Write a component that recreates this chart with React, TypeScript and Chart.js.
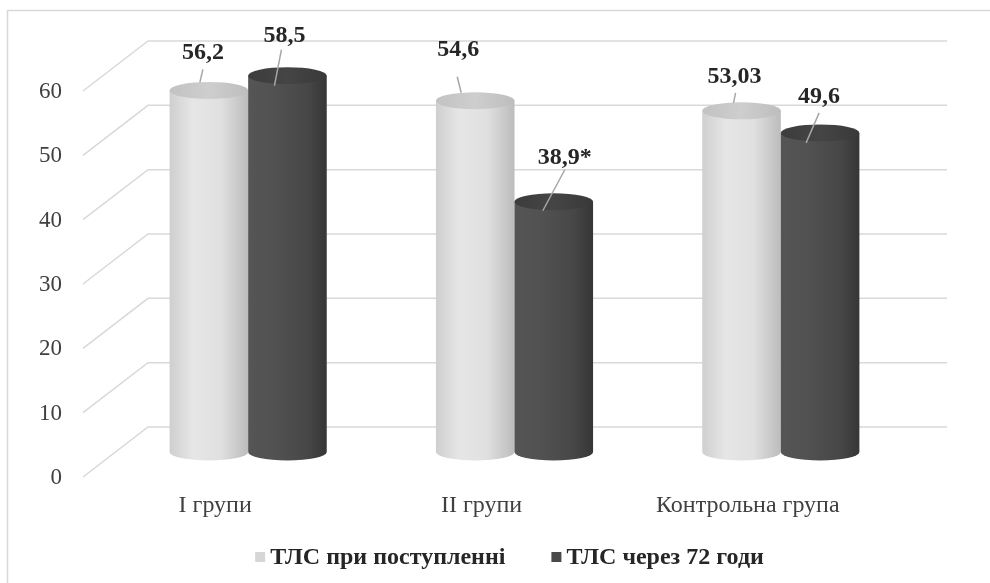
import React, { useEffect, useRef } from "react";
import { Chart, registerables } from "chart.js";

Chart.register(...registerables);

// ---- data ----
const categories = ["I групи", "II групи", "Контрольна група"];
const seriesNames = ["ТЛС при поступленні", "ТЛС через 72 годи"];
const admissionValues = [56.2, 54.6, 53.03];
const after72hValues = [58.5, 38.9, 49.6];
const admissionMarks = ["", "", ""];
const after72hMarks = ["", "*", ""];
const yMin = 0;
const yMax = 60;
const yStep = 10;

// ---- style ----
const FONT = '"Liberation Serif", "Times New Roman", serif';
const DX = 33; // depth offset (x)
const DY = 25; // depth offset (y)
const ELLIPSE_RY = 8.5;
const palettes = [
  {
    legend: "#d6d6d6",
    body: [
      [0, "#cfcfcf"],
      [0.3, "#e6e6e6"],
      [0.65, "#e0e0e0"],
      [1, "#bcbcbc"],
    ],
    top: [
      [0, "#c2c2c2"],
      [0.5, "#cecece"],
      [1, "#bdbdbd"],
    ],
  },
  {
    legend: "#4a4a4a",
    body: [
      [0, "#555555"],
      [0.35, "#515151"],
      [0.75, "#474747"],
      [1, "#363636"],
    ],
    top: [
      [0, "#3c3c3c"],
      [0.5, "#454545"],
      [1, "#393939"],
    ],
  },
];
// label / leader placement relative to the top centre of each bar
const labelLayout = [
  [
    { label: [-6, -38], from: [-6, -21], to: [-9, -8] },
    { label: [-17, -51], from: [-18, -24], to: [-14, -8] },
    { label: [-7, -34], from: [-6, -18], to: [-8, -8] },
  ],
  [
    { label: [-3, -40], from: [-6, -26], to: [-13, 10] },
    { label: [11, -44], from: [11, -32], to: [-11, 9] },
    { label: [-1, -36], from: [-1, -20], to: [-14, 10] },
  ],
];
const seriesMarks = [admissionMarks, after72hMarks];

function fmt(v: number) {
  return String(v).replace(".", ",");
}

function grad(ctx: CanvasRenderingContext2D, l: number, r: number, stops: any[]) {
  const g = ctx.createLinearGradient(l, 0, r, 0);
  for (const [o, c] of stops) g.addColorStop(o, c);
  return g;
}

function drawCylinder(
  ctx: CanvasRenderingContext2D,
  cx: number,
  top: number,
  base: number,
  w: number,
  pal: any
) {
  const rx = w / 2;
  const l = cx - rx;
  const r = cx + rx;
  const ry = ELLIPSE_RY;
  ctx.beginPath();
  ctx.moveTo(l, top);
  ctx.lineTo(l, base);
  ctx.ellipse(cx, base, rx, ry, 0, Math.PI, 0, true);
  ctx.lineTo(r, top);
  ctx.closePath();
  ctx.fillStyle = grad(ctx, l, r, pal.body);
  ctx.fill();
  ctx.beginPath();
  ctx.ellipse(cx, top, rx, ry, 0, 0, Math.PI * 2);
  ctx.fillStyle = grad(ctx, l, r, pal.top);
  ctx.fill();
}

const chart3dPlugin = {
  id: "chart3d",
  beforeDraw(chart: any) {
    const ctx: CanvasRenderingContext2D = chart.ctx;
    ctx.save();
    ctx.fillStyle = "#ffffff";
    ctx.fillRect(0, 0, chart.width, chart.height);
    ctx.strokeStyle = "#d9d9d9";
    ctx.lineWidth = 1.5;
    ctx.beginPath();
    ctx.moveTo(7.5, chart.height + 2);
    ctx.lineTo(7.5, 10.5);
    ctx.lineTo(chart.width + 2, 10.5);
    ctx.stroke();
    ctx.restore();
  },
  beforeDatasetsDraw(chart: any) {
    const ctx: CanvasRenderingContext2D = chart.ctx;
    const ys = chart.scales.y;
    const xs = chart.scales.x;
    const ca = chart.chartArea;
    ctx.save();
    ctx.strokeStyle = "#d9d9d9";
    ctx.lineWidth = 1.5;
    ctx.font = `23px ${FONT}`;
    ctx.fillStyle = "#404040";
    ctx.textAlign = "right";
    ctx.textBaseline = "middle";
    for (const t of ys.ticks) {
      const y = ys.getPixelForValue(t.value);
      const by = y - DY;
      ctx.beginPath();
      ctx.moveTo(ca.left - DX + 1, y + DY);
      ctx.lineTo(ca.left + DX, by);
      ctx.lineTo(ca.right + DX, by);
      ctx.stroke();
      ctx.fillText(String(t.value), ca.left - DX - 20, y + DY + 1);
    }
    ctx.font = `24px ${FONT}`;
    ctx.textAlign = "center";
    chart.data.labels.forEach((lab: string, i: number) => {
      const x = xs.getPixelForValue(i) - DX;
      ctx.fillText(lab, x, ca.bottom + 54);
    });
    ctx.restore();
  },
  beforeDatasetDraw() {
    return false;
  },
  afterDatasetsDraw(chart: any) {
    const ctx: CanvasRenderingContext2D = chart.ctx;
    ctx.save();
    chart.data.datasets.forEach((ds: any, di: number) => {
      const meta = chart.getDatasetMeta(di);
      meta.data.forEach((el: any) => {
        drawCylinder(ctx, el.x, el.y, el.base, el.width, palettes[di]);
      });
    });
    ctx.font = `bold 24px ${FONT}`;
    ctx.textAlign = "center";
    ctx.textBaseline = "middle";
    chart.data.datasets.forEach((ds: any, di: number) => {
      const meta = chart.getDatasetMeta(di);
      meta.data.forEach((el: any, i: number) => {
        const lay = labelLayout[di][i];
        ctx.strokeStyle = "#a6a6a6";
        ctx.lineWidth = 1.5;
        ctx.beginPath();
        ctx.moveTo(el.x + lay.from[0], el.y + lay.from[1]);
        ctx.lineTo(el.x + lay.to[0], el.y + lay.to[1]);
        ctx.stroke();
        ctx.fillStyle = "#262626";
        ctx.fillText(
          fmt(ds.data[i]) + seriesMarks[di][i],
          el.x + lay.label[0],
          el.y + lay.label[1]
        );
      });
    });
    ctx.restore();
  },
  afterDraw(chart: any) {
    const ctx: CanvasRenderingContext2D = chart.ctx;
    const ca = chart.chartArea;
    ctx.save();
    ctx.font = `bold 24px ${FONT}`;
    ctx.textBaseline = "middle";
    ctx.textAlign = "left";
    const box = 10;
    const gap = 5;
    const spacing = 46;
    const items = chart.data.datasets.map((ds: any, di: number) => ({
      text: ds.label,
      color: palettes[di].legend,
      w: box + gap + ctx.measureText(ds.label).width,
    }));
    const total = items.reduce((s: number, it: any) => s + it.w, 0) + spacing * (items.length - 1);
    let x = (ca.left + ca.right) / 2 - 5 - total / 2;
    const y = 557;
    for (const it of items) {
      ctx.fillStyle = it.color;
      ctx.fillRect(x, y - box / 2, box, box);
      ctx.fillStyle = "#262626";
      ctx.fillText(it.text, x + box + gap, y + 1);
      x += it.w + spacing;
    }
    ctx.restore();
  },
};

export default function App() {
  const ref = useRef<HTMLCanvasElement | null>(null);
  useEffect(() => {
    if (!ref.current) return;
    const chart = new Chart(ref.current, {
      type: "bar",
      data: {
        labels: categories,
        datasets: [
          {
            label: seriesNames[0],
            data: admissionValues,
            backgroundColor: palettes[0].legend,
            categoryPercentage: 0.59,
            barPercentage: 1,
          },
          {
            label: seriesNames[1],
            data: after72hValues,
            backgroundColor: palettes[1].legend,
            categoryPercentage: 0.59,
            barPercentage: 1,
          },
        ],
      },
      options: {
        responsive: false,
        animation: false,
        devicePixelRatio: 1,
        layout: { padding: { left: 115, right: 76, top: 66, bottom: 131 } },
        plugins: {
          legend: { display: false },
          tooltip: { enabled: false },
        },
        scales: {
          x: { display: false },
          y: {
            display: false,
            min: yMin,
            max: yMax,
            ticks: { stepSize: yStep },
          },
        },
      },
      plugins: [chart3dPlugin],
    });
    return () => chart.destroy();
  }, []);
  return (
    <div style={{ position: "fixed", left: 0, top: 0, width: 990, height: 583, background: "#fff" }}>
      <canvas ref={ref} width={990} height={583} style={{ display: "block", width: 990, height: 583 }} />
    </div>
  );
}
